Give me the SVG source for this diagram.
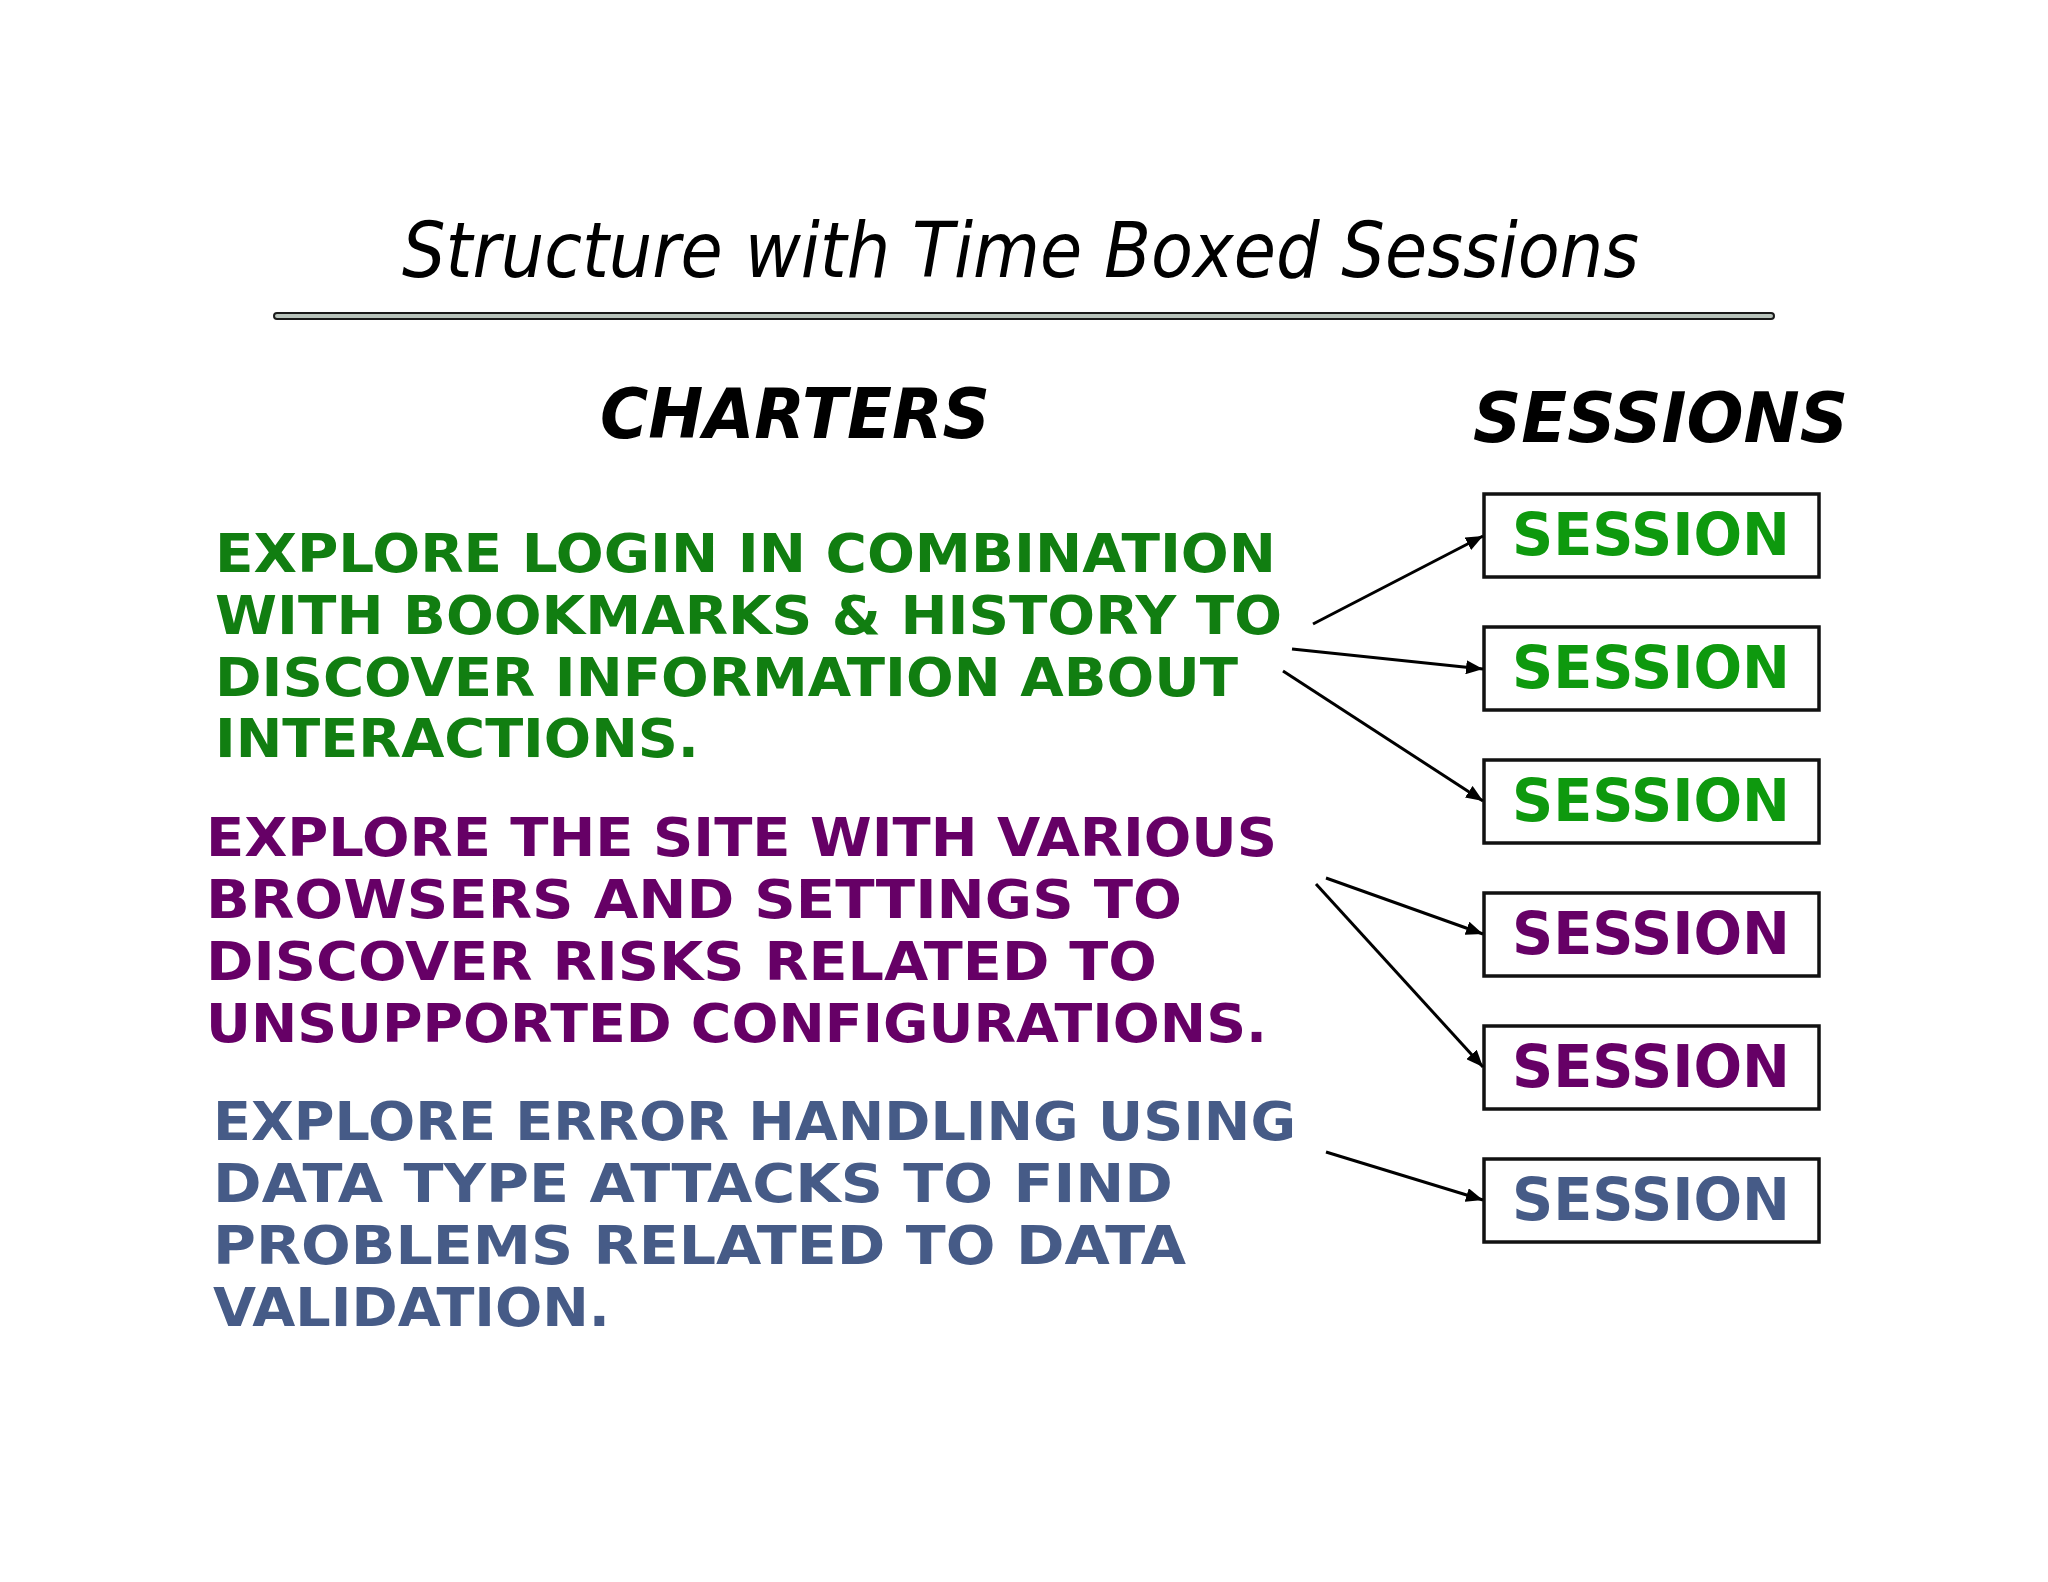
<svg xmlns="http://www.w3.org/2000/svg" width="2048" height="1582" viewBox="0 0 2048 1582">
  <defs>
    <marker id="arr" markerUnits="userSpaceOnUse" markerWidth="20" markerHeight="14" refX="17" refY="7" orient="auto">
      <path d="M0,0 L17,7 L0,14 Z" fill="#000"/>
    </marker>
    <style>
      .title { font-family: "DejaVu Sans", "Liberation Sans", sans-serif; font-style: italic; font-size: 76px; fill: #000; }
      .head { font-family: "DejaVu Sans", "Liberation Sans", sans-serif; font-style: italic; font-weight: bold; font-size: 70px; fill: #000; }
      .ch { font-family: "DejaVu Sans", "Liberation Sans", sans-serif; font-weight: bold; font-size: 53px; }
      .g { fill: #117e11; }
      .p { fill: #660066; }
      .s { fill: #465b87; }
      .box { fill: #fff; stroke: #111; stroke-width: 3.5; }
      .lbl { font-family: "DejaVu Sans", "Liberation Sans", sans-serif; font-weight: bold; font-size: 59px; text-anchor: middle; }
      .sg { fill: #0e990e; }
      .conn line { stroke: #000; stroke-width: 3; marker-end: url(#arr); }
    </style>
  </defs>
  <rect width="2048" height="1582" fill="#fff"/>

  <g id="title">
    <text class="title" x="402" y="277" textLength="1237" lengthAdjust="spacingAndGlyphs">Structure with Time Boxed Sessions</text>
    <rect x="274" y="313" width="1500" height="6" rx="3" fill="#b9c4bc" stroke="#1a1a1a" stroke-width="2"/>
  </g>

  <g id="heading-charters">
    <text class="head" x="600" y="438" textLength="390" lengthAdjust="spacingAndGlyphs">CHARTERS</text>
  </g>
  <g id="heading-sessions">
    <text class="head" x="1473" y="442" textLength="375" lengthAdjust="spacingAndGlyphs">SESSIONS</text>
  </g>

  <g id="charter-1" class="ch g">
    <text x="215" y="572" textLength="1061" lengthAdjust="spacingAndGlyphs">EXPLORE LOGIN IN COMBINATION</text>
    <text x="215" y="634" textLength="1067" lengthAdjust="spacingAndGlyphs">WITH BOOKMARKS &amp; HISTORY TO</text>
    <text x="215" y="696" textLength="1023" lengthAdjust="spacingAndGlyphs">DISCOVER INFORMATION ABOUT</text>
    <text x="215" y="757" textLength="484" lengthAdjust="spacingAndGlyphs">INTERACTIONS.</text>
  </g>

  <g id="charter-2" class="ch p">
    <text x="206" y="856" textLength="1071" lengthAdjust="spacingAndGlyphs">EXPLORE THE SITE WITH VARIOUS</text>
    <text x="206" y="918" textLength="976" lengthAdjust="spacingAndGlyphs">BROWSERS AND SETTINGS TO</text>
    <text x="206" y="980" textLength="951" lengthAdjust="spacingAndGlyphs">DISCOVER RISKS RELATED TO</text>
    <text x="206" y="1042" textLength="1061" lengthAdjust="spacingAndGlyphs">UNSUPPORTED CONFIGURATIONS.</text>
  </g>

  <g id="charter-3" class="ch s">
    <text x="213" y="1140" textLength="1083" lengthAdjust="spacingAndGlyphs">EXPLORE ERROR HANDLING USING</text>
    <text x="213" y="1202" textLength="960" lengthAdjust="spacingAndGlyphs">DATA TYPE ATTACKS TO FIND</text>
    <text x="213" y="1264" textLength="973" lengthAdjust="spacingAndGlyphs">PROBLEMS RELATED TO DATA</text>
    <text x="213" y="1326" textLength="397" lengthAdjust="spacingAndGlyphs">VALIDATION.</text>
  </g>

  <g id="session-1"><rect class="box" x="1484" y="494" width="335" height="83"/><text class="lbl sg" x="1651" y="555" textLength="278" lengthAdjust="spacingAndGlyphs">SESSION</text></g>
  <g id="session-2"><rect class="box" x="1484" y="627" width="335" height="83"/><text class="lbl sg" x="1651" y="688" textLength="278" lengthAdjust="spacingAndGlyphs">SESSION</text></g>
  <g id="session-3"><rect class="box" x="1484" y="760" width="335" height="83"/><text class="lbl sg" x="1651" y="821" textLength="278" lengthAdjust="spacingAndGlyphs">SESSION</text></g>
  <g id="session-4"><rect class="box" x="1484" y="893" width="335" height="83"/><text class="lbl p" x="1651" y="954" textLength="278" lengthAdjust="spacingAndGlyphs">SESSION</text></g>
  <g id="session-5"><rect class="box" x="1484" y="1026" width="335" height="83"/><text class="lbl p" x="1651" y="1087" textLength="278" lengthAdjust="spacingAndGlyphs">SESSION</text></g>
  <g id="session-6"><rect class="box" x="1484" y="1159" width="335" height="83"/><text class="lbl s" x="1651" y="1220" textLength="278" lengthAdjust="spacingAndGlyphs">SESSION</text></g>

  <g id="connectors" class="conn">
    <line x1="1313" y1="624" x2="1483" y2="536"/>
    <line x1="1292" y1="649" x2="1483" y2="669"/>
    <line x1="1283" y1="671" x2="1483" y2="801"/>
    <line x1="1326" y1="878" x2="1483" y2="934"/>
    <line x1="1316" y1="884" x2="1483" y2="1067"/>
    <line x1="1326" y1="1152" x2="1483" y2="1200"/>
  </g>
</svg>
